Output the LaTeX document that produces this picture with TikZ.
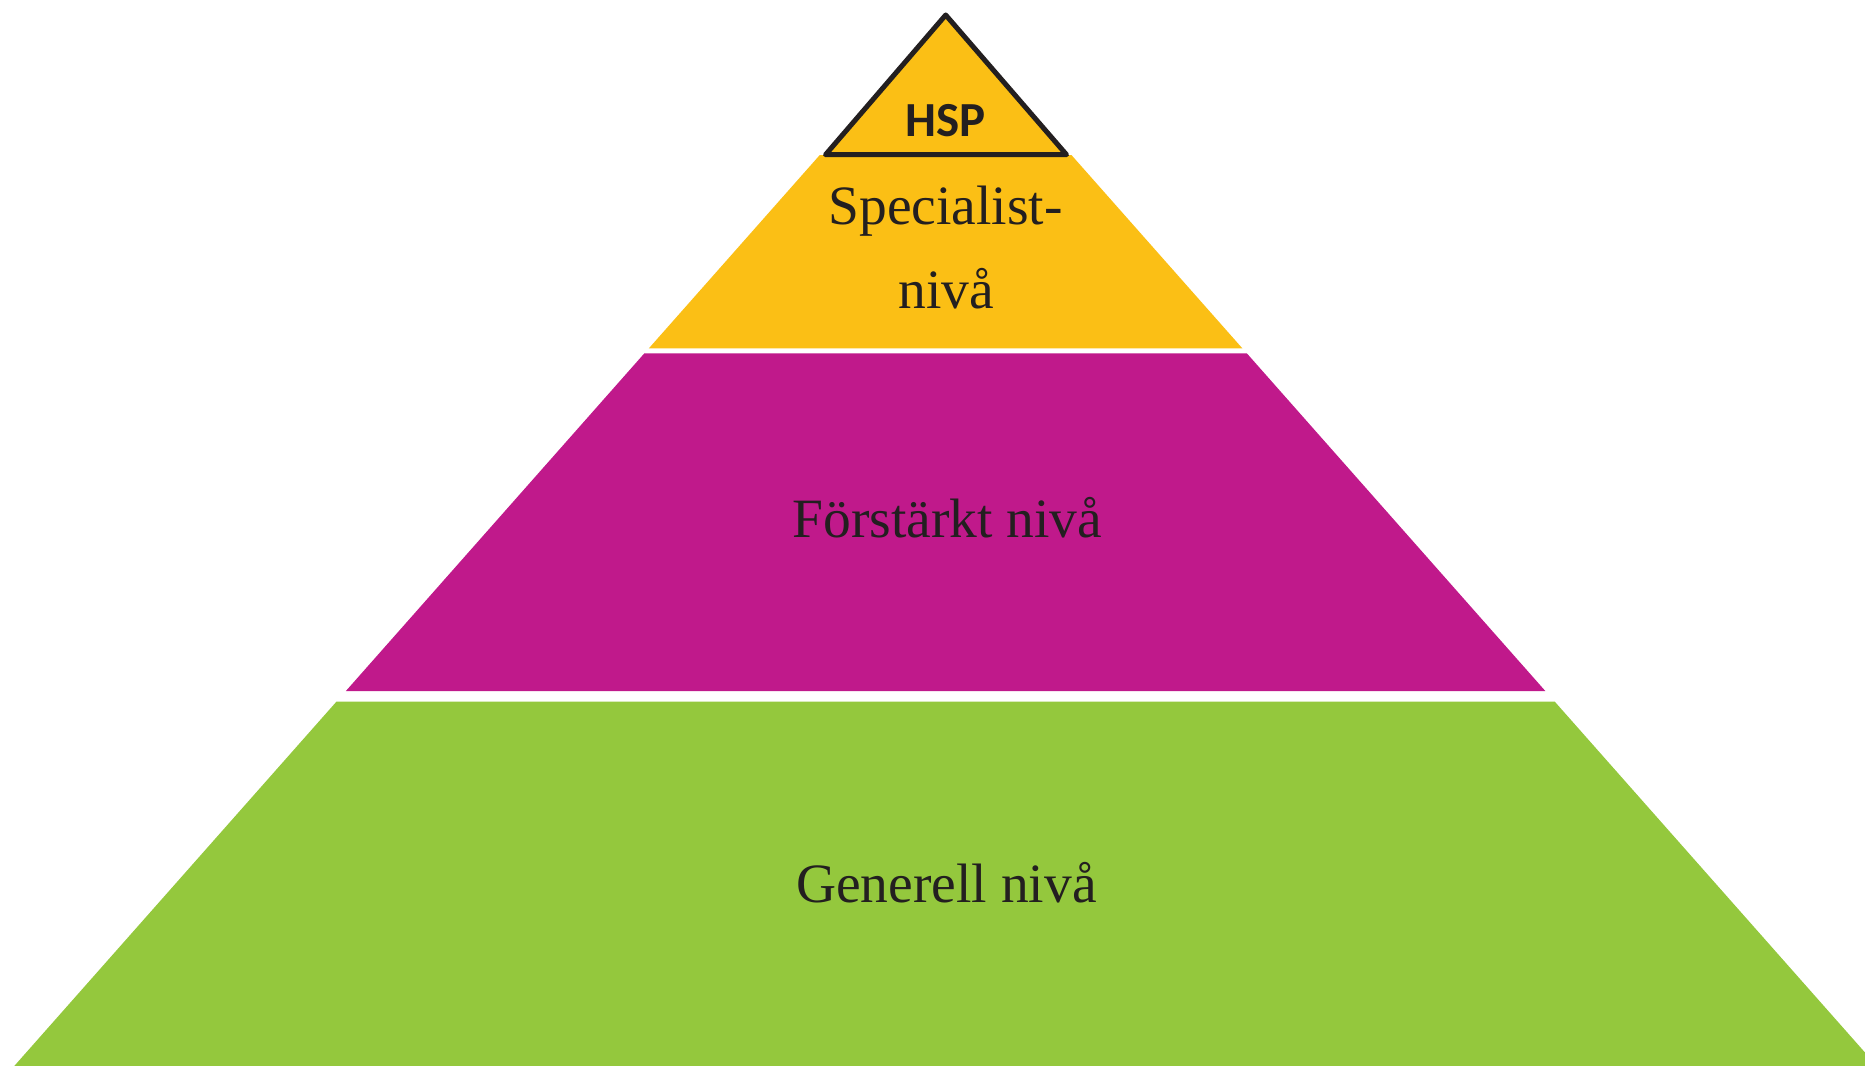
\documentclass[tikz,border=0pt]{standalone}
\usepackage{fontspec}
\setmainfont{Liberation Serif}
\newfontfamily\hspfont{Carlito}
\definecolor{pyrYellow}{HTML}{FBBF15}
\definecolor{pyrMagenta}{HTML}{C0198B}
\definecolor{pyrGreen}{HTML}{94C83D}
\definecolor{pyrText}{HTML}{231F20}
\begin{document}
\begin{tikzpicture}[x=1pt,y=-1pt,
  leveltext/.style={text=pyrText,font=\fontsize{55.5}{60}\selectfont,anchor=base,inner sep=0pt},
  hsptext/.style={text=pyrText,font=\hspfont\bfseries\fontsize{49}{55}\selectfont,anchor=base,inner sep=0pt}]
\useasboundingbox (0,0) rectangle (1865,1065);
\clip (0,0) rectangle (1865,1065);
\fill[white] (0,0) rectangle (1865,1065);
% bands
\fill[pyrYellow] (819.8,155) -- (1071.4,155) -- (1242.3,348.3) -- (648.9,348.3) -- cycle;
\fill[pyrMagenta] (644.4,353.3) -- (1246.8,353.3) -- (1545.3,691) -- (345.9,691) -- cycle;
\fill[pyrGreen] (336.4,701.7) -- (1554.8,701.7) -- (1889.3,1080) -- (1.9,1080) -- cycle;
% HSP triangle
\draw[pyrText,line width=5pt,line join=round,fill=pyrYellow] (945.7,15) -- (825.5,154.7) -- (1066.5,154.7) -- cycle;
% texts
\node[hsptext] (hsp) at (945.8,136.7) {HSP};
\node[leveltext] (spec1) at (945.7,224) {Specialist-};
\node[leveltext] (spec2) at (946.2,308.3) {nivå};
\node[leveltext] (forst) at (947.4,537.7) {Förstärkt nivå};
\node[leveltext] (gen) at (946.5,902.3) {Generell nivå};
\end{tikzpicture}
\end{document}
